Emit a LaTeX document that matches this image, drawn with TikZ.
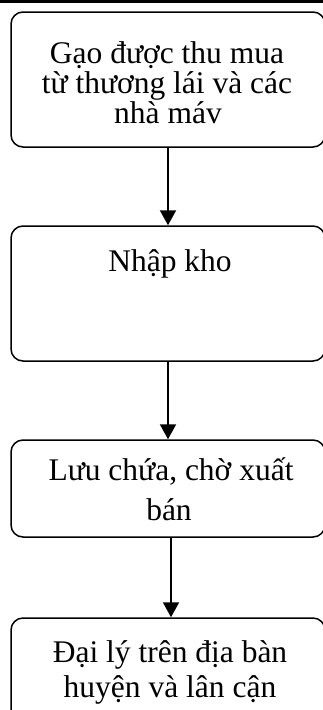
\documentclass[tikz,border=0pt]{standalone}
\usepackage{fontspec}
\setmainfont{Liberation Serif}
\usetikzlibrary{arrows.meta}
\begin{document}
\begin{tikzpicture}[x=1pt,y=-1pt,
  box/.style={draw=black, line width=1.5pt, rounded corners=12pt, inner sep=0pt},
  txt/.style={anchor=base, inner sep=0pt, font=\fontsize{31.5}{32}\selectfont},
  arr/.style={line width=2pt, -{Triangle[width=16pt,length=15pt]}}]
\useasboundingbox (0,0) rectangle (323,710);
\clip (0,0) rectangle (323,710);
\draw[line width=2.5pt] (0,1.5) -- (323,1.5);
% boxes
\node[box, minimum width=314pt, minimum height=135pt] (b1) at (168,79.5) {};
\node[box, minimum width=314pt, minimum height=135pt] (b2) at (168,293.5) {};
\node[box, minimum width=314pt, minimum height=97pt] (b3) at (168,488.5) {};
\node[box, minimum width=314pt, minimum height=140pt] (b4) at (168,688) {};
% texts
\node[txt] (t11) at (167,63) {Gạo được thu mua};
\node[txt] (t12) at (167,93) {từ thương lái và các};
\node[txt] (t13) at (168,123) {nhà máv};
\node[txt] (t21) at (170,271) {Nhập kho};
\node[txt] (t31) at (171,480) {Lưu chứa, chờ xuất};
\node[txt] (t32) at (169,520) {bán};
\node[txt] (t41) at (170,662) {Đại lý trên địa bàn};
\node[txt] (t42) at (170,697) {huyện và lân cận};
% arrows
\draw[arr] (b1.south) -- (b2.north);
\draw[arr] (b2.south) -- (b3.north);
\draw[arr] ([xshift=3pt]b3.south) -- ([xshift=3pt]b4.north);
\end{tikzpicture}
\end{document}
